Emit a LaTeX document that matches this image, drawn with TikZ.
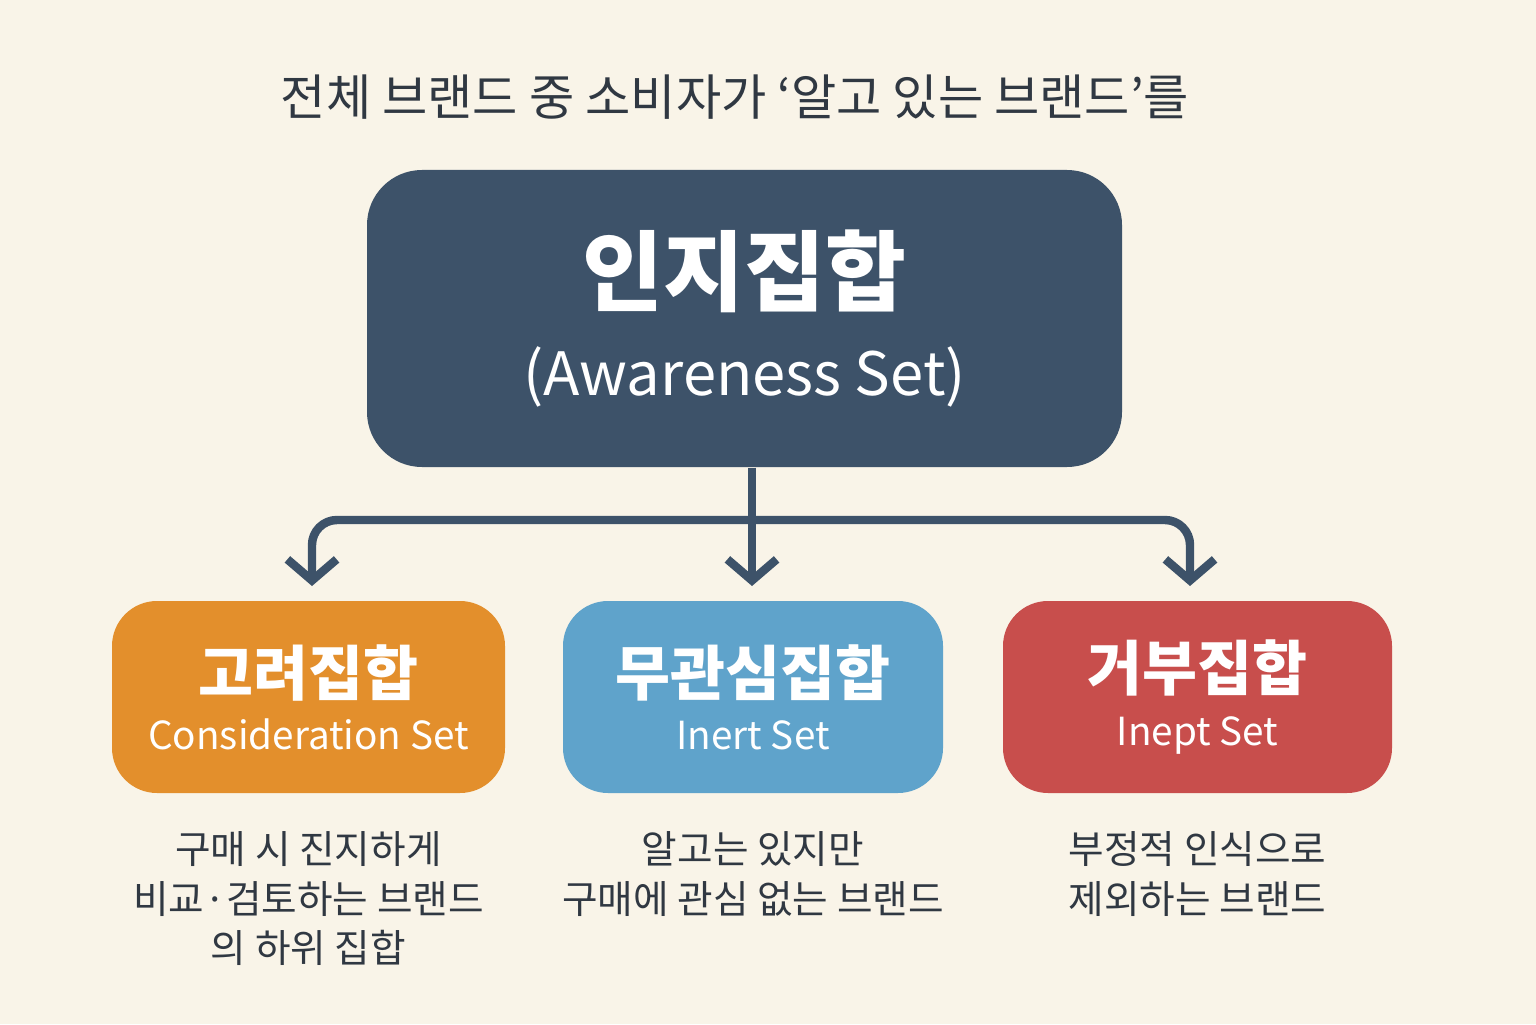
\documentclass[tikz,border=0pt]{standalone}
\usepackage{fontspec}
\setmainfont{Noto Sans CJK KR}
\usetikzlibrary{arrows.meta,positioning}
\definecolor{paper}{RGB}{249,244,232}
\definecolor{navy}{RGB}{61,82,105}
\definecolor{ink}{RGB}{48,56,66}
\definecolor{orangebox}{RGB}{227,143,44}
\definecolor{bluebox}{RGB}{95,163,203}
\definecolor{redbox}{RGB}{200,78,76}
\begin{document}
\begin{tikzpicture}[x=1cm,y=1cm,
  setbox/.style={rounded corners=0.45cm,minimum height=1.92cm,text=white,align=center},
  settitle/.style={font=\fontsize{17}{20}\selectfont\bfseries},
  setname/.style={font=\fontsize{11}{14}\selectfont},
  desc/.style={text=ink,align=center,font=\fontsize{11}{14.2}\selectfont}]
	\fill[paper] (0,0) rectangle (15.36,10.24);
	
	\node[text=ink,font=\fontsize{14}{16}\selectfont] (title) at (7.35,9.27) {전체 브랜드 중 소비자가 ‘알고 있는 브랜드’를};
	
	\node[setbox,fill=navy,rounded corners=0.55cm,minimum width=7.55cm,minimum height=2.97cm] (aware) at (7.445,7.055)
		{{\fontsize{25}{30}\selectfont\bfseries 인지집합}\\[0.3cm]{\fontsize{17}{20}\selectfont (Awareness Set)}};
	
	\node[setbox,fill=orangebox,minimum width=3.93cm] (consider) at (3.085,3.27)
		{{\fontsize{17}{20}\selectfont\bfseries 고려집합}\\[0.12cm]{\fontsize{11}{14}\selectfont Consideration Set}};
	\node[setbox,fill=bluebox,minimum width=3.8cm] (inert) at (7.53,3.27)
		{{\fontsize{17}{20}\selectfont\bfseries 무관심집합}\\[0.12cm]{\fontsize{11}{14}\selectfont Inert Set}};
	\node[setbox,fill=redbox,minimum width=3.89cm] (inept) at (11.975,3.27)
		{{\fontsize{17}{20}\selectfont\bfseries 거부집합}\\[0.12cm]{\fontsize{11}{14}\selectfont Inept Set}};
	
	\node[desc,below=0.25cm of consider] (d1) {구매 시 진지하게\\비교·검토하는 브랜드\\의 하위 집합};
	\node[desc,below=0.25cm of inert] (d2) {알고는 있지만\\구매에 관심 없는 브랜드};
	\node[desc,below=0.25cm of inept] (d3) {부정적 인식으로\\제외하는 브랜드};
	
	\coordinate (split) at (7.52,5.04);
	\coordinate (turnL) at (3.12,5.04);
	\coordinate (turnR) at (11.9,5.04);
	\coordinate (tipL) at (3.12,4.38);
	\coordinate (tipM) at (7.52,4.38);
	\coordinate (tipR) at (11.9,4.38);
	\begin{scope}[navy,line width=2.4pt,-{Straight Barb[length=6pt,width=14pt]}]
		\draw (aware.south -| split) -- (tipM);
		\draw[rounded corners=0.25cm] (split) -- (turnL) -- (tipL);
		\draw[rounded corners=0.25cm] (split) -- (turnR) -- (tipR);
	\end{scope}
\end{tikzpicture}
\end{document}
